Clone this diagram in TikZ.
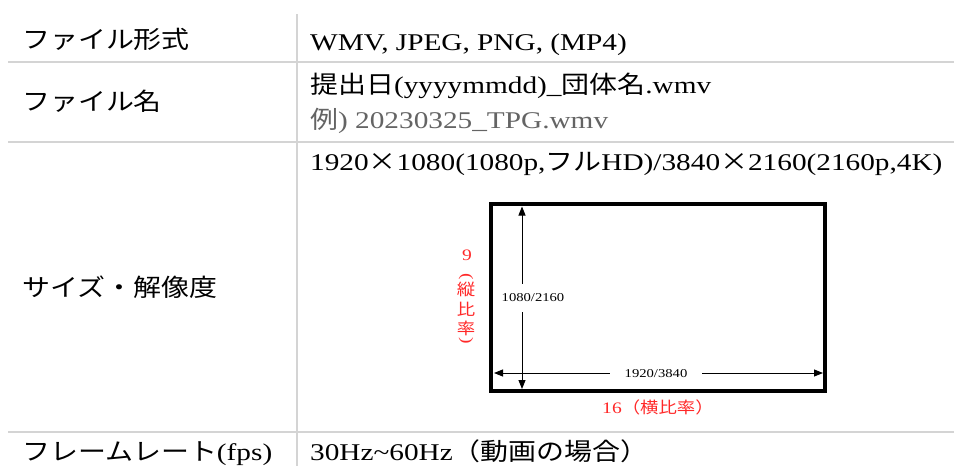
\documentclass[tikz,border=0pt]{standalone}
\usepackage{fontspec}
\setmainfont{Liberation Serif}[FakeStretch=1.22]
\newfontfamily\jp{Noto Sans CJK JP}[FakeStretch=1.15]
\usetikzlibrary{arrows.meta}
\definecolor{rulegray}{RGB}{212,212,212}
\definecolor{redlbl}{RGB}{255,40,40}
\definecolor{graytxt}{RGB}{100,100,100}
\newcommand{\szmain}{\fontsize{24}{28}\selectfont}
\newcommand{\szjp}{\fontsize{24.3}{28}\selectfont}
\newcommand{\szred}{\fontsize{16}{18}\selectfont}
\newcommand{\szdim}{\fontsize{12}{14}\selectfont}
\begin{document}
\begin{tikzpicture}[x=1pt,y=-1pt,
  cell/.style={anchor=base west, inner sep=0pt, font=\szmain},
  jpcell/.style={anchor=base west, inner sep=0pt, font=\szjp\jp},
  hrule/.style={draw=rulegray, line width=2pt},
  vrule/.style={draw=rulegray, line width=1.5pt},
  frame/.style={draw=black, line width=4.5pt},
  dimarrow/.style={{Triangle[length=9pt,width=7pt]}-{Triangle[length=9pt,width=7pt]}, line width=0.9pt},
  dimlabel/.style={fill=white, inner xsep=3pt, font=\szdim},
  ratio/.style={text=redlbl, inner sep=0pt, font=\szred}]
\useasboundingbox (0,0) rectangle (954,466);
\fill[white] (0,0) rectangle (954,466);
% table rules
\coordinate (h1a) at (8,62);  \coordinate (h1b) at (954,62);
\coordinate (h2a) at (8,142); \coordinate (h2b) at (954,142);
\coordinate (h3a) at (8,432); \coordinate (h3b) at (954,432);
\coordinate (vt) at (297,14); \coordinate (vb) at (297,466);
\draw[hrule] (h1a) -- (h1b);
\draw[hrule] (h2a) -- (h2b);
\draw[hrule] (h3a) -- (h3b);
\draw[vrule] (vt) -- (vb);
% left column
\node[jpcell] (k1) at (22,48) {ファイル形式};
\node[jpcell] (k2) at (22,110) {ファイル名};
\node[jpcell] (k3) at (22,296) {サイズ・解像度};
\node[jpcell] (k4) at (22,460) {フレームレート{\rmfamily\szmain(fps)}};
% right column
\node[cell] (v1) at (310,50) {WMV, JPEG, PNG, (MP4)};
\node[cell] (v2a) at (310,93) {{\jp\szjp 提出日}(yyyymmdd)\_{\jp\szjp 団体名}.wmv};
\node[cell, text=graytxt] (v2b) at (310,128) {{\jp\szjp 例}) 20230325\_TPG.wmv};
\node[cell] (v3) at (310,170) {1920{\jp\szjp ×}1080(1080p,{\jp\szjp フル}HD)/3840{\jp\szjp ×}2160(2160p,4K)};
\node[cell] (v4) at (310,460) {30Hz\textasciitilde 60Hz{\jp\szjp （動画の場合）}};
% screen frame
\draw[frame] (491.2,204.2) rectangle (824.8,390.8);
% dimension arrows
\coordinate (vaT) at (522,206.5);
\coordinate (vaB) at (522,389);
\draw[dimarrow] (vaT) -- (vaB);
\node[dimlabel, inner ysep=10pt] (hgt) at (533,298) {1080/2160};
\coordinate (haL) at (494,373);
\coordinate (haR) at (823,373);
\draw[dimarrow] (haL) -- (haR);
\node[dimlabel, minimum width=92pt] (wid) at (656,374) {1920/3840};
% ratio labels
\node[ratio] (nine) at (467,255) {9};
\node[ratio, rotate=-90] (pl) at (466,277) {(};
\node[ratio, font=\szred\jp] (c1) at (466,289) {縦};
\node[ratio, font=\szred\jp] (c2) at (466,309) {比};
\node[ratio, font=\szred\jp] (c3) at (466,328) {率};
\node[ratio, rotate=-90] (pr) at (466,341) {)};
\node[ratio] (sixteen) at (658,407) {16{\jp （横比率）}};
\end{tikzpicture}
\end{document}
